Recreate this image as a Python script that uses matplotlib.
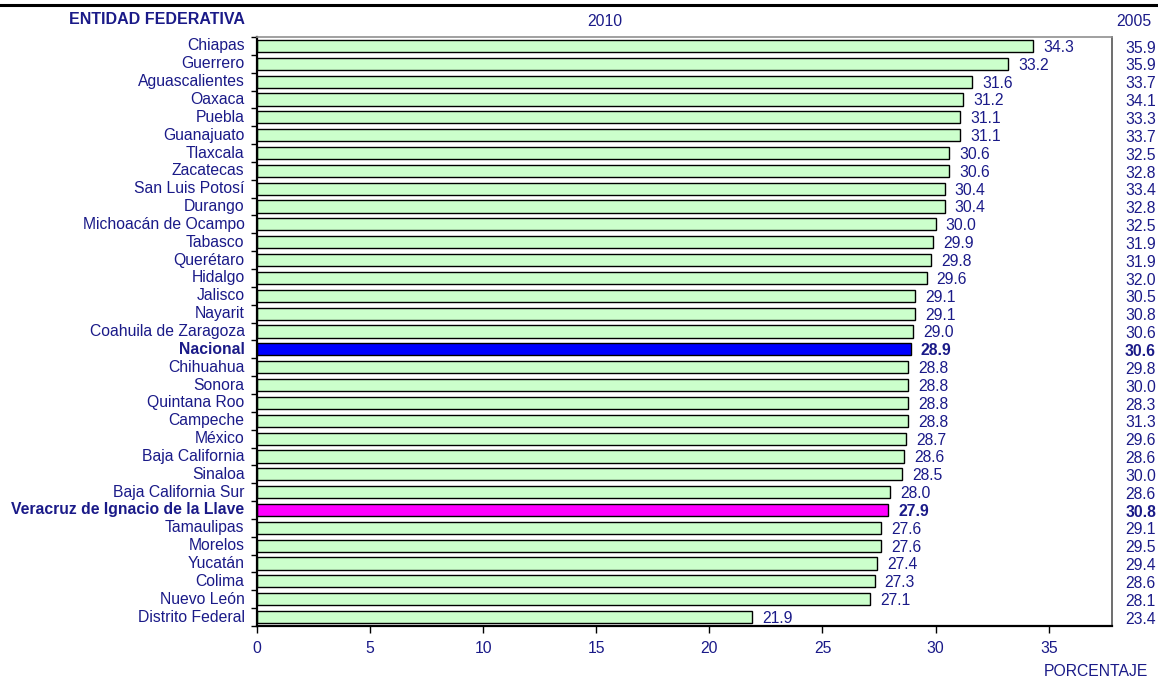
import matplotlib

matplotlib.use("Agg")
import matplotlib.pyplot as plt
from matplotlib.lines import Line2D
from matplotlib.transforms import blended_transform_factory

plt.rcParams["font.family"] = ["Liberation Sans", "DejaVu Sans"]

INK = "#1a1a88"
GREEN = "#ccffcc"
NACIONAL_C = "#0000ff"
VERACRUZ_C = "#ff00ff"
FS = 11.3

ENTIDADES = [
    "Chiapas", "Guerrero", "Aguascalientes", "Oaxaca", "Puebla", "Guanajuato",
    "Tlaxcala", "Zacatecas", "San Luis Potosí", "Durango", "Michoacán de Ocampo",
    "Tabasco", "Querétaro", "Hidalgo", "Jalisco", "Nayarit", "Coahuila de Zaragoza",
    "Nacional", "Chihuahua", "Sonora", "Quintana Roo", "Campeche", "México",
    "Baja California", "Sinaloa", "Baja California Sur",
    "Veracruz de Ignacio de la Llave", "Tamaulipas", "Morelos", "Yucatán",
    "Colima", "Nuevo León", "Distrito Federal",
]
V2010 = [34.3, 33.2, 31.6, 31.2, 31.1, 31.1, 30.6, 30.6, 30.4, 30.4, 30.0,
         29.9, 29.8, 29.6, 29.1, 29.1, 29.0, 28.9, 28.8, 28.8, 28.8, 28.8,
         28.7, 28.6, 28.5, 28.0, 27.9, 27.6, 27.6, 27.4, 27.3, 27.1, 21.9]
V2005 = [35.9, 35.9, 33.7, 34.1, 33.3, 33.7, 32.5, 32.8, 33.4, 32.8, 32.5,
         31.9, 31.9, 32.0, 30.5, 30.8, 30.6, 30.6, 29.8, 30.0, 28.3, 31.3,
         29.6, 28.6, 30.0, 28.6, 30.8, 29.1, 29.5, 29.4, 28.6, 28.1, 23.4]
XTICKS = [0, 5, 10, 15, 20, 25, 30, 35]
HIGHLIGHT = ["Nacional", "Veracruz de Ignacio de la Llave"]

fig = plt.figure(figsize=(11.58, 6.81), dpi=100)
ax = fig.add_axes([257 / 1158, 1 - 626 / 681, (1112 - 257) / 1158, (626 - 37) / 681])

n = len(ENTIDADES)
ys = list(range(n))
colors = []
for name in ENTIDADES:
    if name == "Nacional":
        colors.append(NACIONAL_C)
    elif name.startswith("Veracruz"):
        colors.append(VERACRUZ_C)
    else:
        colors.append(GREEN)

ax.barh(ys, V2010, height=0.68, color=colors, edgecolor="black", linewidth=1.0)

ax.set_xlim(0, 37.8)
ax.set_ylim(n - 0.5, -0.5)

# 2010 values at bar ends, 2005 values in the right-hand column
col_tr = blended_transform_factory(fig.transFigure, ax.transData)
for y, name, v, v5 in zip(ys, ENTIDADES, V2010, V2005):
    bold = "bold" if name in HIGHLIGHT else "normal"
    ax.text(v + 0.45, y + 0.08, f"{v:.1f}", color=INK, fontsize=FS,
            fontweight=bold, va="center", ha="left")
    ax.text(1156 / 1158, y + 0.12, f"{v5:.1f}", color=INK, fontsize=FS,
            fontweight=bold, va="center", ha="right", transform=col_tr)

# category labels
ax.set_yticks([])
for y, name in zip(ys, ENTIDADES):
    bold = "bold" if name in HIGHLIGHT else "normal"
    ax.text(-0.55, y, name, color=INK, fontsize=FS, fontweight=bold,
            ha="right", va="center")
# boundary ticks on the left spine
ax.set_yticks([i - 0.5 for i in range(n + 1)], minor=True)
ax.tick_params(axis="y", which="minor", length=4, width=1, color="black",
               direction="out")

ax.set_xticks(XTICKS)
ax.tick_params(axis="x", length=5, width=1, colors="black", labelcolor=INK,
               labelsize=FS, pad=6)

for side in ("left", "bottom"):
    ax.spines[side].set_color("black")
    ax.spines[side].set_linewidth(1.6)
ax.spines["top"].set_color("#909090")
ax.spines["top"].set_linewidth(1.2)
ax.spines["right"].set_color("#555555")
ax.spines["right"].set_linewidth(1.2)

fig.text(245 / 1158, 1 - 20 / 681, "ENTIDAD FEDERATIVA", color=INK,
         fontsize=11.5, fontweight="bold", ha="right", va="center")
fig.text(605 / 1158, 1 - 22 / 681, "2010", color=INK, fontsize=FS,
         ha="center", va="center")
fig.text(1134 / 1158, 1 - 22 / 681, "2005", color=INK, fontsize=FS,
         ha="center", va="center")
fig.text(1096 / 1158, 1 - 672 / 681, "PORCENTAJE", color=INK, fontsize=FS,
         ha="center", va="center")

fig.add_artist(Line2D([0, 1], [1 - 5 / 681, 1 - 5 / 681], color="black",
                      linewidth=2.2, transform=fig.transFigure))

fig.savefig("out.png", dpi=100, facecolor="white")
